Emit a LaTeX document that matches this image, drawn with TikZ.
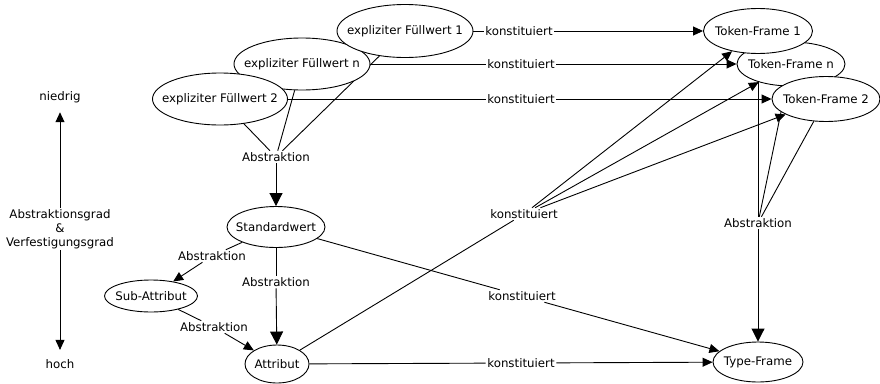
\documentclass[tikz,border=0pt]{standalone}
\usepackage{fontspec}
\setmainfont{DejaVu Sans}
\usetikzlibrary{arrows.meta,shapes.geometric}
\pgfdeclarelayer{bg}
\pgfsetlayers{bg,main}
\newcommand{\flatlabel}[1]{\makebox[0pt]{#1}}

\begin{document}
\begin{tikzpicture}[
  x=1pt, y=-1pt,
  font=\fontsize{11.8}{14}\selectfont,
  frame/.style={draw, ellipse, fill=white, inner sep=0pt, line width=0.9pt},
  lbl/.style={inner sep=1.5pt},
  line/.style={line width=0.9pt},
  arrow/.style={line width=0.9pt, -{Triangle[length=10pt,width=9pt]}},
  bigarrow/.style={line width=0.9pt, -{Triangle[length=13pt,width=13pt]}}
]
\useasboundingbox (0,0) rectangle (880,383);

% scale on the left
\node (low) at (60,97) {niedrig};
\node[align=center, inner sep=1pt] (grad) at (60,229) {Abstraktionsgrad\\\&\\Verfestigungsgrad};
\node (high) at (60,364) {hoch};

% explicit fillers (n first, 1 and 2 lie on top of it)
\node[frame, minimum width=136pt, minimum height=52pt] (fwn) at (302,64) {\flatlabel{expliziter Füllwert n}};
\node[frame, minimum width=136pt, minimum height=53pt] (fw1) at (405,31) {\flatlabel{expliziter Füllwert 1}};
\node[frame, minimum width=135pt, minimum height=52pt] (fw2) at (220,99) {\flatlabel{expliziter Füllwert 2}};

% token frames
\node[frame, minimum width=108pt, minimum height=44pt] (tfn) at (791,64) {\flatlabel{Token-Frame n}};
\node[frame, minimum width=109pt, minimum height=45pt] (tf1) at (758,31) {\flatlabel{Token-Frame 1}};
\node[frame, minimum width=108pt, minimum height=45pt] (tf2) at (826,99) {\flatlabel{Token-Frame 2}};

\node[frame, minimum width=98pt, minimum height=41pt] (std) at (276,227) {\flatlabel{Standardwert}};
\node[frame, minimum width=93pt, minimum height=32pt] (sub) at (151,296) {\flatlabel{Sub-Attribut}};
\node[frame, minimum width=64pt, minimum height=38pt] (attr) at (277,364) {\flatlabel{Attribut}};
\node[frame, minimum width=90pt, minimum height=40pt] (type) at (758,362) {\flatlabel{Type-Frame}};

% edge labels
\node[lbl] (k1) at (519,31) {konstituiert};
\node[lbl] (kn) at (521,64) {konstituiert};
\node[lbl] (k2) at (521,99) {konstituiert};
\node[lbl] (ktok) at (524,214) {konstituiert};
\node[lbl] (kstd) at (522,296) {konstituiert};
\node[lbl] (kattr) at (521,363) {konstituiert};
\node[lbl] (afw) at (276,157) {Abstraktion};
\node[lbl] (atf) at (758,223) {Abstraktion};
\node[lbl] (astd) at (276,282) {Abstraktion};
\node[lbl] (asub) at (212,256) {Abstraktion};
\node[lbl] (aattr) at (214,327) {Abstraktion};

\begin{pgfonlayer}{bg}
\draw[arrow, shorten >=6pt] (grad) -- (low);
\draw[arrow, shorten >=6pt] (grad) -- (high);

\foreach \f in {fw1,fwn,fw2}
  \draw[line] (\f) -- (afw);
\draw[bigarrow] (afw) -- (std);

\foreach \t in {tf1,tfn,tf2}
  \draw[line] (\t) -- (atf);
\draw[bigarrow] (atf) -- (type);

\draw[line] (std) -- (astd);
\draw[bigarrow] (astd) -- (attr);
\draw[line] (std) -- (asub);
\draw[arrow] (asub) -- (sub);
\draw[line] (sub) -- (aattr);
\draw[arrow] (aattr) -- (attr);

\draw[line] (fw1) -- (k1);
\draw[arrow] (k1) -- (tf1);
\draw[line] (fwn) -- (kn);
\draw[arrow] (kn) -- (tfn);
\draw[line] (fw2) -- (k2);
\draw[arrow] (k2) -- (tf2);

\draw[line] (attr) -- (ktok);
\foreach \t in {tf1,tfn,tf2}
  \draw[arrow] (ktok) -- (\t);
\draw[line] (std) -- (kstd);
\draw[arrow] (kstd) -- (type);
\draw[line] (attr) -- (kattr);
\draw[arrow] (kattr) -- (type);
\end{pgfonlayer}

\end{tikzpicture}
\end{document}
